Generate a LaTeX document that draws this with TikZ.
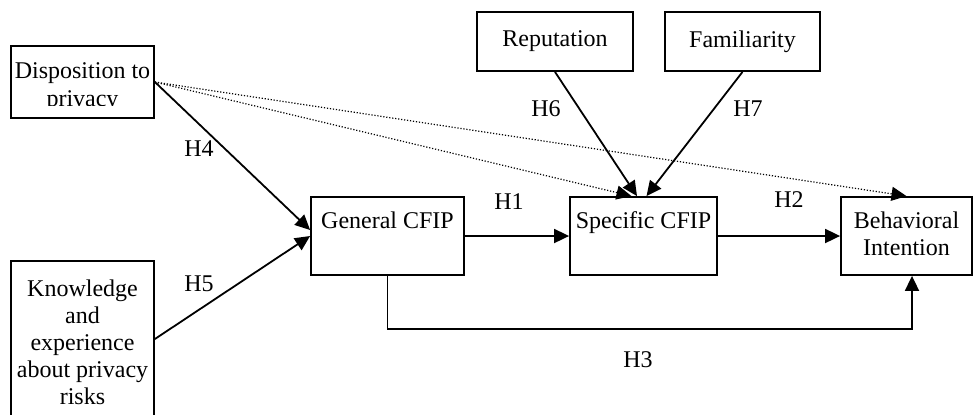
\documentclass[tikz,border=0pt]{standalone}
\usepackage{fontspec}
\setmainfont{Liberation Serif}
\usetikzlibrary
  {
    arrows.meta,  % filled triangle heads
    positioning,  % place nodes relative to other nodes
  }

\begin{document}
\begin{tikzpicture}
    [
      x=0.5pt, y=-0.5pt,
      % Styles
      box/.style={draw, line width=0.9pt, inner sep=0pt, font=\fontsize{12}{13.5}\selectfont},
      box text/.style={inner sep=0pt, align=center, font=\fontsize{12}{13.5}\selectfont},
      hyp/.style={inner sep=0pt, font=\fontsize{12}{13.5}\selectfont},
      link/.style={line width=0.9pt, -{Triangle[length=7.5pt, width=7pt]}},
      weak link/.style={line width=0.6pt, dash pattern=on 0.6pt off 0.9pt, -{Triangle[length=7.5pt, width=7pt]}}
    ]

    \useasboundingbox (0,0) rectangle (974,414);

    % boxes
    \node [box, minimum width=71.5pt, minimum height=36pt]   (disp) at (82.5,82)  {};
    \node [box, minimum width=71.5pt, minimum height=78pt]   (know) at (82.5,339) {};
    \node [box, minimum width=76.5pt, minimum height=39pt]   (gen)  at (387.5,236) {};
    \node [box, minimum width=73.5pt, minimum height=39pt]   (spec) at (643.5,236) {};
    \node [box, minimum width=65.5pt, minimum height=39pt]   (beh)  at (906.5,236) {};
    \node [box, minimum width=78pt,   minimum height=29.5pt] (rep)  at (555,41.5)  {Reputation};
    \node [box, minimum width=77.5pt, minimum height=29.5pt] (fam)  at (742.5,41.5) {Familiarity};

    % texts at the top of the boxes
    \begin{scope}
      \clip (disp.north west) rectangle ([yshift=6.5pt]disp.south east);
      \node [box text, below=8.5pt of disp.north] (disp text) {Disposition to\\[0.5pt]privacy};
    \end{scope}
    \node [box text, below=9.5pt of know.north] (know text)
      {Knowledge\\and\\experience\\about privacy\\risks};
    \node [box text, below=7.5pt of gen.north]  (gen text)  {General CFIP};
    \node [box text, below=7.5pt of spec.north] (spec text) {Specific CFIP};
    \node [box text, below=7.5pt of beh.north]  (beh text)  {Behavioral\\Intention};

    % hypotheses
    \draw [link] (disp.east) -- ([yshift=3pt]gen.west);
    \draw [link] (know.east) -- (gen.west);
    \draw [link] (gen.east) -- (spec.west);
    \draw [link] (spec.east) -- (beh.west);
    \draw [link] (gen.south) -- ++(0,53) -| ([xshift=2.75pt]beh.south);
    \draw [link] (rep.south) -- ([xshift=-3.25pt]spec.north);
    \draw [link] (fam.south) -- ([xshift=1.5pt]spec.north);

    % dotted paths
    \draw [weak link] (disp.east) -- ([xshift=-6pt]spec.north);
    \draw [weak link] (disp.east) -- (beh.north);

    % labels
    \node [hyp] (h1) at (509,202) {H1};
    \node [hyp] (h2) at (789,200) {H2};
    \node [hyp] (h3) at (638,360) {H3};
    \node [hyp] (h4) at (199,149) {H4};
    \node [hyp] (h5) at (199,284) {H5};
    \node [hyp] (h6) at (546,109) {H6};
    \node [hyp] (h7) at (748,109) {H7};
\end{tikzpicture}
\end{document}
